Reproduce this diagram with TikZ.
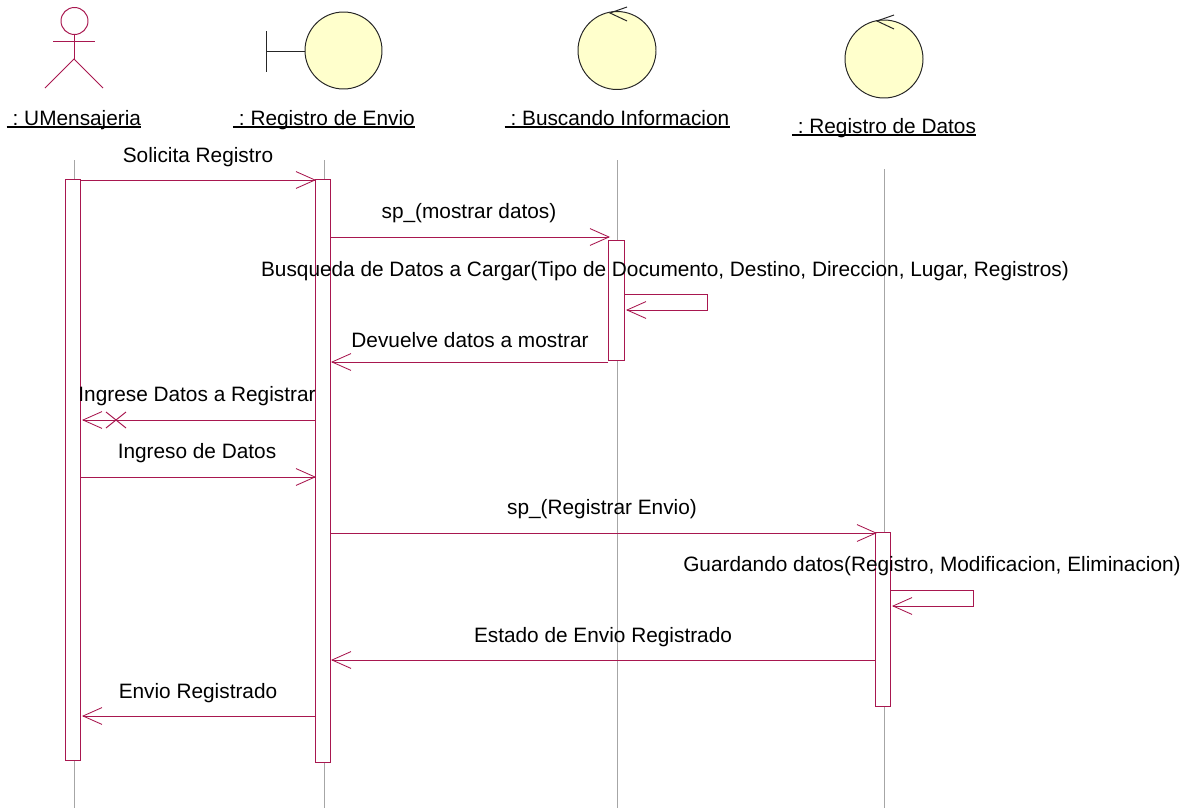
\documentclass[tikz,border=0pt]{standalone}
\usepackage{fontspec}
\setmainfont{Liberation Sans}
\usetikzlibrary{arrows.meta}
\definecolor{seqline}{HTML}{A8174F}
\definecolor{seqfill}{HTML}{FFFFCC}
\frenchspacing
\tikzset{
	lifeline/.style={line width=0.7pt, color=black!35},
	activation/.style={draw=seqline, fill=white, line width=0.7pt, inner sep=0pt, minimum width=15*0.025cm},
	msg/.style={draw=seqline, line width=0.7pt, -{Straight Barb[length=13.5pt,width=12pt,line width=0.6pt]}},
	plainmsg/.style={draw=seqline, line width=0.7pt},
	objhead/.style={draw=black!85, fill=seqfill, line width=0.7pt},
	actorline/.style={draw=seqline, line width=0.7pt},
	lbl/.style={inner sep=0pt, font=\fontsize{14.8}{17}\selectfont},
	namelbl/.style={lbl, anchor=base},
	nameline/.style={draw=black, line width=0.9pt}
}
\begin{document}
\begin{tikzpicture}[x=0.025cm, y=-0.025cm]
	%%%%% START %%%%%
	\useasboundingbox (0, 0) rectangle (1192, 809);

	\draw[lifeline] (74, 160) -- (74, 808);
	\draw[lifeline] (324, 160) -- (324, 808);
	\draw[lifeline] (617, 160) -- (617, 808);
	\draw[lifeline] (884, 169) -- (884, 808);

	% actor
	\draw[actorline] (74.5, 21) circle (13.5);
	\draw[actorline] (53, 41) -- (95, 41);
	\draw[actorline] (74, 34) -- (74, 59);
	\draw[actorline] (45, 88) -- (74, 59) -- (103, 88);

	% boundary
	\draw[objhead] (266, 31) -- (266, 72);
	\draw[objhead] (266, 51) -- (305, 51);
	\draw[objhead] (343.5, 50.5) circle (38.5);

	% control
	\draw[objhead] (617, 50.5) circle (39);
	\draw[objhead, fill=none] (627, 7) -- (610, 13) -- (627, 21);
	\draw[objhead] (884, 59) circle (39);
	\draw[objhead, fill=none] (894, 15) -- (877, 21) -- (894, 29);

	\node[namelbl] (umensajeria) at (74, 125) {\ : UMensajeria};
	\node[namelbl] (regenvio) at (324, 125) {\ : Registro de Envio};
	\node[namelbl] (buscando) at (617, 125) {\ : Buscando Informacion};
	\node[namelbl] (regdatos) at (884, 133) {\ : Registro de Datos};
	\draw[nameline] ([yshift=-1.5pt]umensajeria.base west) -- ([yshift=-1.5pt]umensajeria.base east);
	\draw[nameline] ([yshift=-1.5pt]regenvio.base west) -- ([yshift=-1.5pt]regenvio.base east);
	\draw[nameline] ([yshift=-1.5pt]buscando.base west) -- ([yshift=-1.5pt]buscando.base east);
	\draw[nameline] ([yshift=-1.5pt]regdatos.base west) -- ([yshift=-1.5pt]regdatos.base east);

	\node[activation, minimum height=581*0.025cm] (barA) at (72.5, 469.5) {};
	\node[activation, minimum height=583*0.025cm] (barB) at (322.5, 470.5) {};
	\node[activation, minimum height=120*0.025cm, minimum width=16*0.025cm] (barC) at (616, 300) {};
	\node[activation, minimum height=174*0.025cm] (barD) at (882.5, 619) {};

	\coordinate (solA) at (81, 180);
	\coordinate (solB) at (316, 180);
	\coordinate (mosA) at (331, 237);
	\coordinate (mosB) at (610, 237);
	\coordinate (busA) at (625, 294);
	\coordinate (busB) at (707, 294);
	\coordinate (busC) at (707, 310);
	\coordinate (busD) at (626, 310);
	\coordinate (devA) at (608, 362);
	\coordinate (devB) at (331, 362);
	\coordinate (ingA) at (316, 420);
	\coordinate (ingB) at (82, 420);
	\coordinate (insA) at (81, 477);
	\coordinate (insB) at (316, 477);
	\coordinate (regA) at (331, 533);
	\coordinate (regB) at (877, 533);
	\coordinate (guaA) at (891, 590);
	\coordinate (guaB) at (973, 590);
	\coordinate (guaC) at (973, 606);
	\coordinate (guaD) at (892, 606);
	\coordinate (estA) at (875, 660);
	\coordinate (estB) at (331, 660);
	\coordinate (envA) at (316, 716);
	\coordinate (envB) at (82, 716);

	\draw[msg] (solA) -- (solB);
	\draw[msg] (mosA) -- (mosB);
	\draw[msg] (busA) -- (busB) -- (busC) -- (busD);
	\draw[msg] (devA) -- (devB);
	\draw[msg] (ingA) -- (ingB);
	\draw[plainmsg] (106, 412) -- (126, 428);
	\draw[plainmsg] (106, 428) -- (126, 412);
	\draw[msg] (insA) -- (insB);
	\draw[msg] (regA) -- (regB);
	\draw[msg] (guaA) -- (guaB) -- (guaC) -- (guaD);
	\draw[msg] (estA) -- (estB);
	\draw[msg] (envA) -- (envB);

	\node[lbl] (solLbl) at (198, 157) {Solicita Registro};
	\node[lbl] (mosLbl) at (469, 213) {sp\_(mostrar datos)};
	\node[lbl] (busLbl) at (665, 271) {Busqueda de Datos a Cargar(Tipo de Documento, Destino, Direccion, Lugar, Registros)};
	\node[lbl] (devLbl) at (470, 340) {Devuelve datos a mostrar};
	\node[lbl] (ingLbl) at (197, 396) {Ingrese Datos a Registrar};
	\node[lbl] (insLbl) at (197, 453) {Ingreso de Datos};
	\node[lbl] (regLbl) at (602, 509) {sp\_(Registrar Envio)};
	\node[lbl] (guaLbl) at (932, 566) {Guardando datos(Registro, Modificacion, Eliminacion)};
	\node[lbl] (estLbl) at (603, 637) {Estado de Envio Registrado};
	\node[lbl] (envLbl) at (198, 693) {Envio Registrado};
	%%%%% END %%%%%
\end{tikzpicture}
\end{document}
